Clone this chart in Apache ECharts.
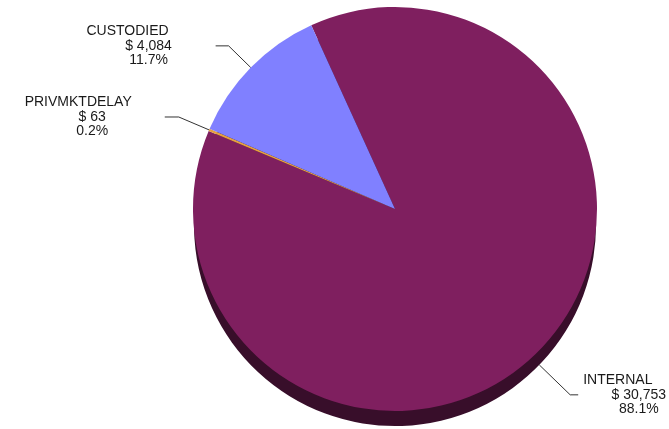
<!DOCTYPE html>
<html>
<head>
<meta charset="utf-8">
<script src="https://cdn.jsdelivr.net/npm/echarts@6/dist/echarts.min.js"></script>
<style>
html,body{margin:0;padding:0;background:#fff;}
#chart{width:669px;height:429px;}
</style>
</head>
<body>
<div id="chart"></div>
<script>
const categories = ['INTERNAL', 'PRIVMKTDELAY', 'CUSTODIED'];
const values = [30753, 63, 4084];
const colors = ['#7F1F5F', '#E6A040', '#8080FF'];
const shadowColor = '#380E2A';

const FONT = '"Liberation Sans", Arial, sans-serif';
function makeRich(namePad) {
  return {
    n: { fontFamily: FONT, fontSize: 14, color: '#1a1a1a', lineHeight: 14.5, align: 'center', padding: [0, namePad, 0, 0] },
    v: { fontFamily: FONT, fontSize: 14, color: '#1a1a1a', lineHeight: 14.5, align: 'center' }
  };
}
function fmt(p) {
  return '{n|' + p.name + '}\n{v|$ ' + p.value.toLocaleString('en-US') + '}\n{v|' + p.percent.toFixed(1) + '%}';
}
const lineStyle = { color: '#333', width: 1 };
const lineCfg = {
  'PRIVMKTDELAY': { length: 33, length2: 14 },
  'CUSTODIED': { length: 31, length2: 13 },
  'INTERNAL': { length: 43, length2: 8 }
};
const namePads = { 'PRIVMKTDELAY': 28, 'CUSTODIED': 42, 'INTERNAL': 42 };

const topData = categories.map((c, i) => ({
  name: c, value: values[i],
  itemStyle: { color: colors[i] },
  label: { show: c !== 'INTERNAL', rich: makeRich(namePads[c]) },
  labelLine: Object.assign({ show: c !== 'INTERNAL' }, lineCfg[c])
}));
const shadowData = categories.map((c, i) => ({
  name: c, value: values[i],
  itemStyle: { color: shadowColor },
  label: { show: c === 'INTERNAL', rich: makeRich(namePads[c]) },
  labelLine: Object.assign({ show: c === 'INTERNAL' }, lineCfg[c])
}));

const common = {
  type: 'pie',
  startAngle: 114.5,
  clockwise: true,
  avoidLabelOverlap: false,
  silent: true,
  animation: false,
  label: { position: 'outside', formatter: fmt, distanceToLabelLine: 5 },
  labelLine: { smooth: false, lineStyle: lineStyle },
  itemStyle: { borderWidth: 0 },
  emphasis: { disabled: true }
};

const chart = echarts.init(document.getElementById('chart'), null, { renderer: 'canvas' });
chart.setOption({
  backgroundColor: '#ffffff',
  series: [
    Object.assign({}, common, { center: [395, 225], radius: 201, data: shadowData, z: 1 }),
    Object.assign({}, common, { center: [395, 209], radius: 202, data: topData, z: 2 })
  ]
});
</script>
</body>
</html>
